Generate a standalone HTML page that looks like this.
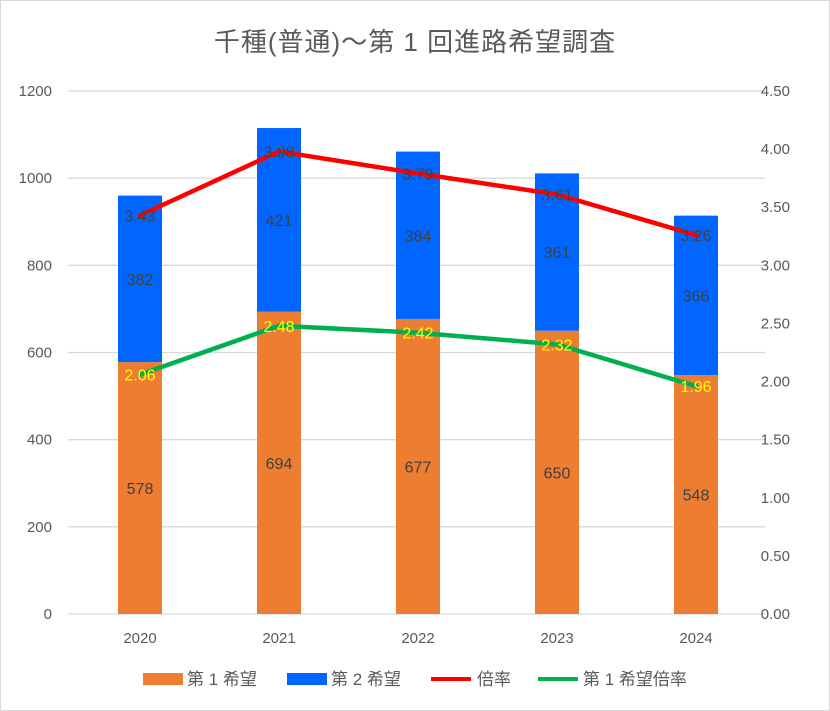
<!DOCTYPE html>
<html><head><meta charset="utf-8"><style>
body{margin:0;background:#fff}
svg{display:block;font-family:"Liberation Sans","Noto Sans CJK JP",sans-serif}
</style></head><body>
<svg id="c" width="830" height="711">
<rect x="0.5" y="0.5" width="829" height="710" fill="#fff" stroke="#d9d9d9"/>
<text x="415" y="51" text-anchor="middle" font-size="26" letter-spacing="1" fill="#595959">千種(普通)～第 1 回進路希望調査</text>
<g id="grid"></g><g id="bars"></g><g id="lines"></g><g id="labels"></g><g id="axes"></g>
<g font-size="17" fill="#595959">
<rect x="143" y="673" width="40" height="12" fill="#ED7D31"/>
<text x="187" y="685">第 1 希望</text>
<rect x="287" y="673" width="40" height="12" fill="#0066FF"/>
<text x="331" y="685">第 2 希望</text>
<line x1="431" y1="679" x2="471" y2="679" stroke="#FF0000" stroke-width="4"/>
<text x="477" y="685">倍率</text>
<line x1="538" y1="679" x2="578" y2="679" stroke="#00B050" stroke-width="4"/>
<text x="583" y="685">第 1 希望倍率</text>
</g>
</svg>
<script>
const categories=["2020","2021","2022","2023","2024"];
const first=[578,694,677,650,548];
const second=[382,421,384,361,366];
const ratio=[3.43,3.98,3.79,3.61,3.26];
const firstRatio=[2.06,2.48,2.42,2.32,1.96];
const leftTicks=[0,200,400,600,800,1000,1200];
const rightTicks=[0,0.5,1,1.5,2,2.5,3,3.5,4,4.5];
const NS="http://www.w3.org/2000/svg";
const y0=614,y1=91,xL=70.5,xR=765.5;
const yL=v=>y0-(v/1200)*(y0-y1);
const yR=v=>y0-(v/4.5)*(y0-y1);
const step=(xR-xL)/categories.length;
const xC=i=>xL+step*(i+0.5);
const bw=44;
function mk(tag,attrs,parent){const e=document.createElementNS(NS,tag);for(const k in attrs)e.setAttribute(k,attrs[k]);document.getElementById(parent).appendChild(e);return e;}
leftTicks.forEach(t=>{
 const l=mk("line",{x1:68,x2:765,y1:yL(t),y2:yL(t),stroke:"#d9d9d9","stroke-width":1.3},"grid");
 
 
 const tx=mk("text",{x:52,y:yL(t)+5,"text-anchor":"end","font-size":15,fill:"#595959"},"axes");
 tx.textContent=t;
 
 
});
rightTicks.forEach(t=>{
 const tx=mk("text",{x:790,y:yR(t)+5,"text-anchor":"end","font-size":15,fill:"#595959"},"axes");
 tx.textContent=t.toFixed(2);
 
 
});
categories.forEach((c,i)=>{
 const tx=mk("text",{x:xC(i),y:643,"text-anchor":"middle","font-size":15,fill:"#595959"},"axes");
 tx.textContent=c;
 
 
 const b1=mk("rect",{x:xC(i)-bw/2,y:yL(first[i]),width:bw,height:yL(0)-yL(first[i]),fill:"#ED7D31"},"bars");
 
 
 const b2=mk("rect",{x:xC(i)-bw/2,y:yL(first[i]+second[i]),width:bw,height:yL(first[i])-yL(first[i]+second[i]),fill:"#0066FF"},"bars");
 
 
 const l1=mk("text",{x:xC(i),y:(yL(0)+yL(first[i]))/2+6,"text-anchor":"middle","font-size":16,fill:"#404040"},"labels");
 l1.textContent=first[i];
 
 
 const l2=mk("text",{x:xC(i),y:(yL(first[i])+yL(first[i]+second[i]))/2+6,"text-anchor":"middle","font-size":16,fill:"#404040"},"labels");
 l2.textContent=second[i];
 
 
 const l3=mk("text",{x:xC(i),y:yR(ratio[i])+6,"text-anchor":"middle","font-size":16,fill:"#404040"},"labels");
 l3.textContent=ratio[i].toFixed(2);
 
 
 const l4=mk("text",{x:xC(i),y:yR(firstRatio[i])+6,"text-anchor":"middle","font-size":16,fill:"#FFFF00"},"labels");
 l4.textContent=firstRatio[i].toFixed(2);
 
 
});
const p1=mk("polyline",{points:ratio.map((v,i)=>xC(i)+","+yR(v)).join(" "),fill:"none",stroke:"#FF0000","stroke-width":4.5,"stroke-linejoin":"round","stroke-linecap":"round"},"lines");


const p2=mk("polyline",{points:firstRatio.map((v,i)=>xC(i)+","+yR(v)).join(" "),fill:"none",stroke:"#00B050","stroke-width":4.5,"stroke-linejoin":"round","stroke-linecap":"round"},"lines");


</script>
</body></html>
